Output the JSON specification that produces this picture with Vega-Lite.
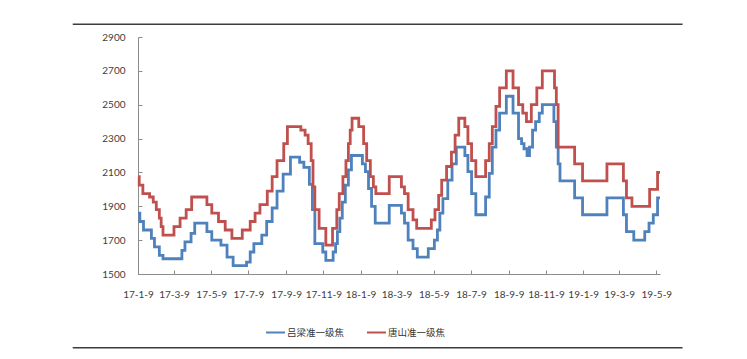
{
  "$schema": "https://vega.github.io/schema/vega-lite/v6.json",
  "width": 522,
  "height": 237,
  "autosize": "none",
  "padding": {"left": 138, "top": 37, "right": 87, "bottom": 85},
  "background": "white",
  "config": {
    "view": {"stroke": null},
    "axis": {
      "labelFont": "Lato", "labelFontSize": 10, "labelColor": "#404040",
      "domainColor": "#8c8c8c", "tickColor": "#8c8c8c", "grid": false, "title": null
    }
  },
  "datasets": {
    "lvliang": [
      {"d":"2017-01-09","v":1860},{"d":"2017-01-12","v":1810},{"d":"2017-01-18","v":1760},{"d":"2017-01-31","v":1710},
      {"d":"2017-02-05","v":1660},{"d":"2017-02-13","v":1610},{"d":"2017-02-19","v":1590},{"d":"2017-03-22","v":1640},
      {"d":"2017-03-27","v":1690},{"d":"2017-04-06","v":1740},{"d":"2017-04-12","v":1800},{"d":"2017-05-02","v":1750},
      {"d":"2017-05-10","v":1700},{"d":"2017-05-25","v":1670},{"d":"2017-06-04","v":1600},{"d":"2017-06-14","v":1550},
      {"d":"2017-07-06","v":1570},{"d":"2017-07-12","v":1630},{"d":"2017-07-18","v":1680},{"d":"2017-07-31","v":1730},
      {"d":"2017-08-08","v":1810},{"d":"2017-08-17","v":1890},{"d":"2017-08-25","v":1990},{"d":"2017-09-04","v":2090},
      {"d":"2017-09-16","v":2190},{"d":"2017-10-01","v":2160},{"d":"2017-10-08","v":2130},{"d":"2017-10-17","v":2030},
      {"d":"2017-10-22","v":1880},{"d":"2017-10-26","v":1680},{"d":"2017-11-08","v":1630},{"d":"2017-11-13","v":1580},
      {"d":"2017-11-25","v":1630},{"d":"2017-11-29","v":1680},{"d":"2017-12-02","v":1750},{"d":"2017-12-06","v":1830},
      {"d":"2017-12-10","v":1925},{"d":"2017-12-15","v":2025},{"d":"2017-12-20","v":2115},{"d":"2017-12-25","v":2200},
      {"d":"2018-01-12","v":2150},{"d":"2018-01-17","v":2105},{"d":"2018-01-22","v":2005},{"d":"2018-01-27","v":1900},
      {"d":"2018-02-02","v":1800},{"d":"2018-02-25","v":1905},{"d":"2018-03-17","v":1860},{"d":"2018-03-22","v":1800},
      {"d":"2018-03-28","v":1700},{"d":"2018-04-05","v":1650},{"d":"2018-04-12","v":1600},{"d":"2018-04-30","v":1650},
      {"d":"2018-05-10","v":1700},{"d":"2018-05-15","v":1760},{"d":"2018-05-19","v":1860},{"d":"2018-05-24","v":1945},
      {"d":"2018-06-01","v":2055},{"d":"2018-06-08","v":2150},{"d":"2018-06-15","v":2250},{"d":"2018-06-29","v":2200},
      {"d":"2018-07-04","v":2105},{"d":"2018-07-10","v":1975},{"d":"2018-07-17","v":1850},{"d":"2018-08-02","v":1955},
      {"d":"2018-08-08","v":2095},{"d":"2018-08-13","v":2250},{"d":"2018-08-19","v":2350},{"d":"2018-08-25","v":2450},
      {"d":"2018-09-05","v":2550},{"d":"2018-09-16","v":2450},{"d":"2018-09-25","v":2300},{"d":"2018-09-30","v":2270},
      {"d":"2018-10-04","v":2240},{"d":"2018-10-09","v":2200},{"d":"2018-10-13","v":2250},{"d":"2018-10-18","v":2350},
      {"d":"2018-10-23","v":2400},{"d":"2018-10-29","v":2450},{"d":"2018-11-03","v":2500},{"d":"2018-11-22","v":2400},
      {"d":"2018-11-26","v":2250},{"d":"2018-11-29","v":2150},{"d":"2018-12-02","v":2050},{"d":"2018-12-26","v":1950},
      {"d":"2019-01-08","v":1850},{"d":"2019-02-17","v":1950},{"d":"2019-03-16","v":1850},{"d":"2019-03-21","v":1750},
      {"d":"2019-04-02","v":1700},{"d":"2019-04-20","v":1750},{"d":"2019-04-27","v":1800},{"d":"2019-05-04","v":1850},
      {"d":"2019-05-11","v":1950},{"d":"2019-05-15","v":1950}
    ],
    "tangshan": [
      {"d":"2017-01-09","v":2075},{"d":"2017-01-11","v":2025},{"d":"2017-01-17","v":1975},{"d":"2017-01-28","v":1955},
      {"d":"2017-02-03","v":1925},{"d":"2017-02-08","v":1880},{"d":"2017-02-13","v":1830},{"d":"2017-02-16","v":1780},
      {"d":"2017-02-19","v":1730},{"d":"2017-03-09","v":1780},{"d":"2017-03-19","v":1830},{"d":"2017-03-29","v":1880},
      {"d":"2017-04-07","v":1955},{"d":"2017-05-02","v":1910},{"d":"2017-05-10","v":1860},{"d":"2017-05-21","v":1810},
      {"d":"2017-06-01","v":1760},{"d":"2017-06-12","v":1710},{"d":"2017-06-29","v":1760},{"d":"2017-07-12","v":1810},
      {"d":"2017-07-20","v":1860},{"d":"2017-07-28","v":1910},{"d":"2017-08-09","v":1990},{"d":"2017-08-17","v":2075},
      {"d":"2017-08-25","v":2170},{"d":"2017-09-05","v":2270},{"d":"2017-09-11","v":2370},{"d":"2017-10-03","v":2350},
      {"d":"2017-10-10","v":2320},{"d":"2017-10-15","v":2270},{"d":"2017-10-20","v":2170},{"d":"2017-10-23","v":2015},
      {"d":"2017-10-26","v":1880},{"d":"2017-11-02","v":1770},{"d":"2017-11-13","v":1670},{"d":"2017-11-24","v":1770},
      {"d":"2017-12-01","v":1880},{"d":"2017-12-05","v":1975},{"d":"2017-12-11","v":2075},{"d":"2017-12-16","v":2170},
      {"d":"2017-12-20","v":2270},{"d":"2017-12-23","v":2350},{"d":"2017-12-26","v":2420},{"d":"2018-01-06","v":2370},
      {"d":"2018-01-14","v":2270},{"d":"2018-01-19","v":2170},{"d":"2018-01-25","v":2075},{"d":"2018-01-30","v":2015},
      {"d":"2018-02-03","v":1975},{"d":"2018-02-25","v":2075},{"d":"2018-03-17","v":2015},{"d":"2018-03-22","v":1975},
      {"d":"2018-03-28","v":1880},{"d":"2018-04-05","v":1820},{"d":"2018-04-11","v":1770},{"d":"2018-05-05","v":1820},
      {"d":"2018-05-11","v":1880},{"d":"2018-05-17","v":1965},{"d":"2018-05-22","v":2055},{"d":"2018-05-30","v":2135},
      {"d":"2018-06-07","v":2220},{"d":"2018-06-13","v":2320},{"d":"2018-06-19","v":2420},{"d":"2018-06-29","v":2370},
      {"d":"2018-07-04","v":2270},{"d":"2018-07-10","v":2170},{"d":"2018-07-17","v":2075},{"d":"2018-08-02","v":2170},
      {"d":"2018-08-08","v":2270},{"d":"2018-08-13","v":2370},{"d":"2018-08-19","v":2490},{"d":"2018-08-25","v":2600},
      {"d":"2018-09-05","v":2700},{"d":"2018-09-16","v":2600},{"d":"2018-09-25","v":2500},{"d":"2018-10-02","v":2450},
      {"d":"2018-10-08","v":2400},{"d":"2018-10-16","v":2500},{"d":"2018-10-25","v":2600},{"d":"2018-11-03","v":2700},
      {"d":"2018-11-23","v":2600},{"d":"2018-11-26","v":2500},{"d":"2018-11-29","v":2250},{"d":"2018-12-26","v":2150},
      {"d":"2019-01-08","v":2050},{"d":"2019-02-17","v":2150},{"d":"2019-03-16","v":2050},{"d":"2019-03-21","v":1950},
      {"d":"2019-03-30","v":1900},{"d":"2019-04-28","v":2000},{"d":"2019-05-11","v":2100},{"d":"2019-05-15","v":2100}
    ],
    "frame": [
      {"from":"2016-09-24","to":"2019-06-21","level":2975},
      {"from":"2016-09-24","to":"2019-06-21","level":1064}
    ]
  },
  "encoding": {
    "x": {
      "field": "d", "type": "temporal",
      "scale": {"type": "utc", "domain": [{"year":2017,"month":1,"date":9,"utc":true},{"year":2019,"month":5,"date":15,"utc":true}]},
      "axis": {
        "labelExpr": "utcFormat(datum.value, '%y-%-m-%-d')", "tickSize": -4, "labelPadding": 19, "labelFlush": false, "labelOverlap": false,
        "values": [
          {"year":2017,"month":1,"date":9,"utc":true},{"year":2017,"month":3,"date":9,"utc":true},{"year":2017,"month":5,"date":9,"utc":true},
          {"year":2017,"month":7,"date":9,"utc":true},{"year":2017,"month":9,"date":9,"utc":true},{"year":2017,"month":11,"date":9,"utc":true},
          {"year":2018,"month":1,"date":9,"utc":true},{"year":2018,"month":3,"date":9,"utc":true},{"year":2018,"month":5,"date":9,"utc":true},
          {"year":2018,"month":7,"date":9,"utc":true},{"year":2018,"month":9,"date":9,"utc":true},{"year":2018,"month":11,"date":9,"utc":true},
          {"year":2019,"month":1,"date":9,"utc":true},{"year":2019,"month":3,"date":9,"utc":true},{"year":2019,"month":5,"date":9,"utc":true}
        ]
      }
    },
    "y": {
      "field": "v", "type": "quantitative",
      "scale": {"domain": [1500, 2900], "nice": false, "zero": false},
      "axis": {"values": [1500,1700,1900,2100,2300,2500,2700,2900], "format": "d", "tickSize": -4, "labelPadding": 17}
    }
  },
  "layer": [
    {
      "data": {"name": "lvliang"},
      "mark": {"type": "line", "interpolate": "step-after", "strokeWidth": 2.8},
      "encoding": {
        "color": {
          "datum": "吕梁准一级焦", "type": "nominal",
          "scale": {"domain": ["吕梁准一级焦", "唐山准一级焦"], "range": ["#4F81BD", "#C0504D"]},
          "legend": {
            "orient": "none", "legendX": 127, "legendY": 285, "direction": "horizontal", "title": null,
            "symbolType": "stroke", "symbolSize": 361, "symbolStrokeWidth": 2,
            "labelFont": "Noto Sans CJK SC", "labelFontSize": 9.5, "labelColor": "#333333",
            "labelOffset": 1, "columnPadding": 18
          }
        }
      }
    },
    {
      "data": {"name": "tangshan"},
      "mark": {"type": "line", "interpolate": "step-after", "strokeWidth": 2.8},
      "encoding": {"color": {"datum": "唐山准一级焦", "type": "nominal"}}
    },
    {
      "data": {"name": "frame"},
      "mark": {"type": "rule", "color": "#3c3c3c", "strokeWidth": 1.5, "clip": false},
      "encoding": {
        "x": {"field": "from", "type": "temporal"},
        "x2": {"field": "to"},
        "y": {"field": "level", "type": "quantitative"}
      }
    }
  ]
}
